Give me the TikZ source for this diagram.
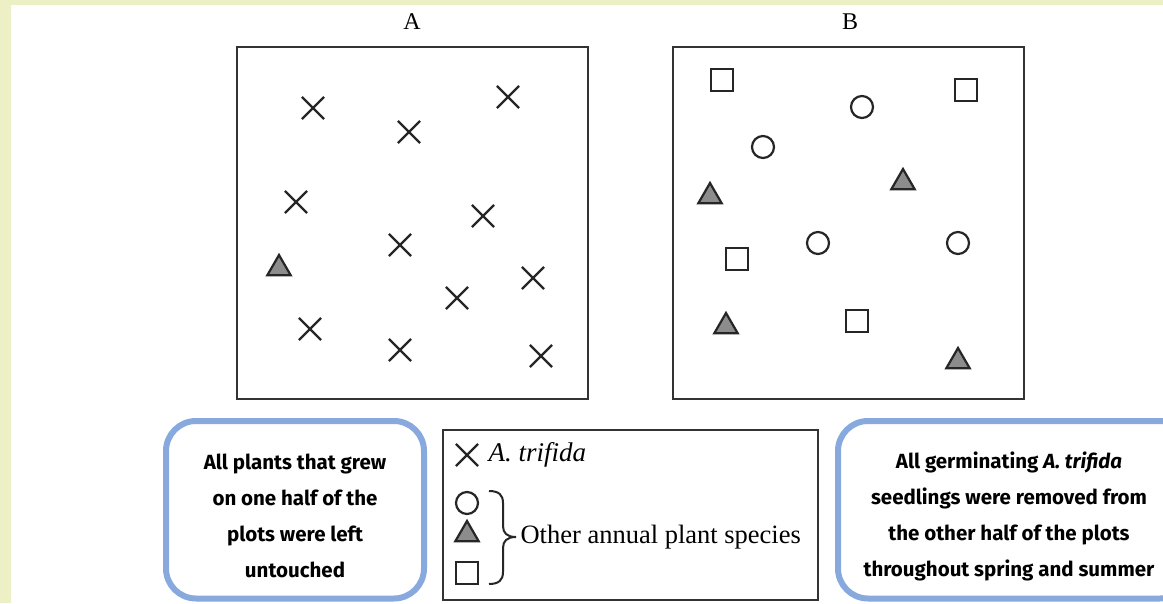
\documentclass[tikz,border=0pt]{standalone}
\usepackage{fontspec}
\setmainfont{Liberation Serif}
\newfontfamily\handfont{Fira Sans}
\usetikzlibrary{shapes.geometric,shapes.misc,positioning}

\definecolor{pagebg}{RGB}{236,240,196}
\definecolor{calloutblue}{RGB}{136,169,222}

\begin{document}
\begin{tikzpicture}[x=1pt,y=-1pt,
            plot/.style={draw=black!80,line width=2.4pt},
            xmark/.style={cross out,draw=black!85,line width=2.2pt,minimum size=20pt,inner sep=0pt},
            circ/.style={circle,draw=black!85,line width=2.2pt,minimum size=22pt,inner sep=0pt},
            sq/.style={rectangle,draw=black!85,line width=2.2pt,minimum size=22pt,inner sep=0pt},
            tri/.style={regular polygon,regular polygon sides=3,draw=black!85,fill=black!45,
              line width=2.2pt,minimum size=27pt,inner sep=0pt,yshift=-3.5pt},
            callout/.style={draw=calloutblue,line width=6pt,rounded corners=30pt},
            note/.style={font=\handfont\bfseries\fontsize{20.5}{36}\selectfont,align=center}]
 \useasboundingbox (0,0) rectangle (1163,603);
 \clip (0,0) rectangle (1163,603);
 \fill[pagebg] (0,0) rectangle (1163,603);
 \fill[white] (11,5) rectangle (1163,603);

 % plot A
 \draw[plot] (237,47) rectangle (588,399);
 \node[font=\fontsize{24}{24}\selectfont] (labA) at (412,22) {A};
 \node[xmark] (a1) at (313,108) {};
 \node[xmark] (a2) at (508,97) {};
 \node[xmark] (a3) at (409,132) {};
 \node[xmark] (a4) at (296,202) {};
 \node[xmark] (a5) at (483,216) {};
 \node[xmark] (a6) at (400,245) {};
 \node[xmark] (a7) at (533,278) {};
 \node[xmark] (a8) at (457,298) {};
 \node[xmark] (a9) at (310,329) {};
 \node[xmark] (a10) at (400,350) {};
 \node[xmark] (a11) at (541,356) {};
 \node[tri] (a12) at (279,265) {};

 % plot B
 \draw[plot] (673,47) rectangle (1024,399);
 \node[font=\fontsize{24}{24}\selectfont] (labB) at (850,22) {B};
 \node[sq] (b1) at (722,80) {};
 \node[sq] (b2) at (966,90) {};
 \node[circ] (b3) at (862,107) {};
 \node[circ] (b4) at (763,147) {};
 \node[tri] (b5) at (710,193) {};
 \node[tri] (b6) at (903,179) {};
 \node[circ] (b7) at (818,243) {};
 \node[circ] (b8) at (958,243) {};
 \node[sq] (b9) at (737,259) {};
 \node[tri] (b10) at (726,323) {};
 \node[sq] (b11) at (857,321) {};
 \node[tri] (b12) at (958,358) {};

 % key
 \draw[plot,line width=2pt] (443,430) rectangle (818,600);
 \node[xmark] (kx) at (467,455) {};
 \node[anchor=west,font=\itshape\fontsize{27}{27}\selectfont] (kxt) at (485,455) {A. trifida};
 \node[circ] (kc) at (467,503) {};
 \node[tri] (kt) at (467,531) {};
 \node[sq] (ks) at (467,573) {};
 \draw[line width=2pt,black!85]
   (489,491) .. controls (499,491) and (503,495) .. (503,503) -- (503,526)
   .. controls (503,533) and (507,537) .. (516,537)
   .. controls (507,537) and (503,541) .. (503,548) -- (503,572)
   .. controls (503,580) and (499,584) .. (489,584);
 \node[anchor=west,font=\fontsize{26.5}{26.5}\selectfont] (kot) at (517,537) {Other annual plant species};

 % notes
 \draw[callout] (166,421) rectangle (424,598.5);
 \node[note] (left) at (295,516) {All plants that grew\\on one half of the\\plots were left\\untouched};
 \draw[callout] (838,421) rectangle (1190,598.5);
 \node[note] (right) at (1009,516) {All germinating \textit{A. trifida}\\seedlings were removed from\\the other half of the plots\\throughout spring and summer};
\end{tikzpicture}
\end{document}
